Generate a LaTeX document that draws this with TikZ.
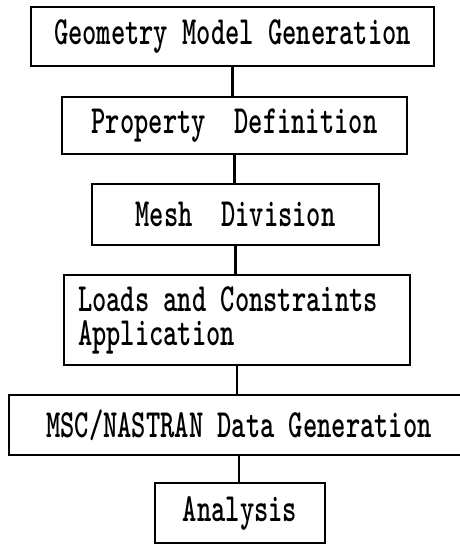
\documentclass[tikz,border=0pt]{standalone}
\usepackage{graphicx}
% condensed typewriter lettering used in every box
\newcommand{\lbl}[1]{\scalebox{0.68}[1]{#1}}
% a left-aligned line of fixed width, for the two-line box
\newcommand{\lline}[1]{\makebox[318pt][l]{\lbl{#1}}}
\begin{document}
\begin{tikzpicture}[x=1pt,y=-1pt,
  stepbox/.style={draw, line width=2.2pt, inner sep=0pt, align=center,
    font=\fontsize{40}{34}\selectfont\ttfamily\bfseries},
  link/.style={line width=2.2pt}]
\useasboundingbox (0,0) rectangle (460,547);

\node[stepbox, minimum width=403, minimum height=59] (geo) at (232.5,36.5)
  {\lbl{Geometry Model Generation}};
\node[stepbox, minimum width=345, minimum height=57] (prop) at (234.5,125.5)
  {\lbl{Property\ \ Definition}};
\node[stepbox, minimum width=287, minimum height=61] (mesh) at (235.5,214.5)
  {\lbl{Mesh\ \ Division}};
\node[stepbox, minimum width=346, minimum height=90, align=left] (load) at (237,320)
  {\lline{Loads and Constraints}\\\lline{Application}};
\node[stepbox, minimum width=460, minimum height=60] (nas) at (239,425)
  {\lbl{MSC/NASTRAN Data Generation}};
\node[stepbox, minimum width=170, minimum height=60] (ana) at (240,513)
  {\lbl{Analysis}};

\draw[link] (geo.south)  -- (geo.south  |- prop.north);
\draw[link] (prop.south) -- (prop.south |- mesh.north);
\draw[link] (mesh.south) -- (mesh.south |- load.north);
\draw[link] (load.south) -- (load.south |- nas.north);
\draw[link] (nas.south)  -- (nas.south  |- ana.north);
\end{tikzpicture}
\end{document}
